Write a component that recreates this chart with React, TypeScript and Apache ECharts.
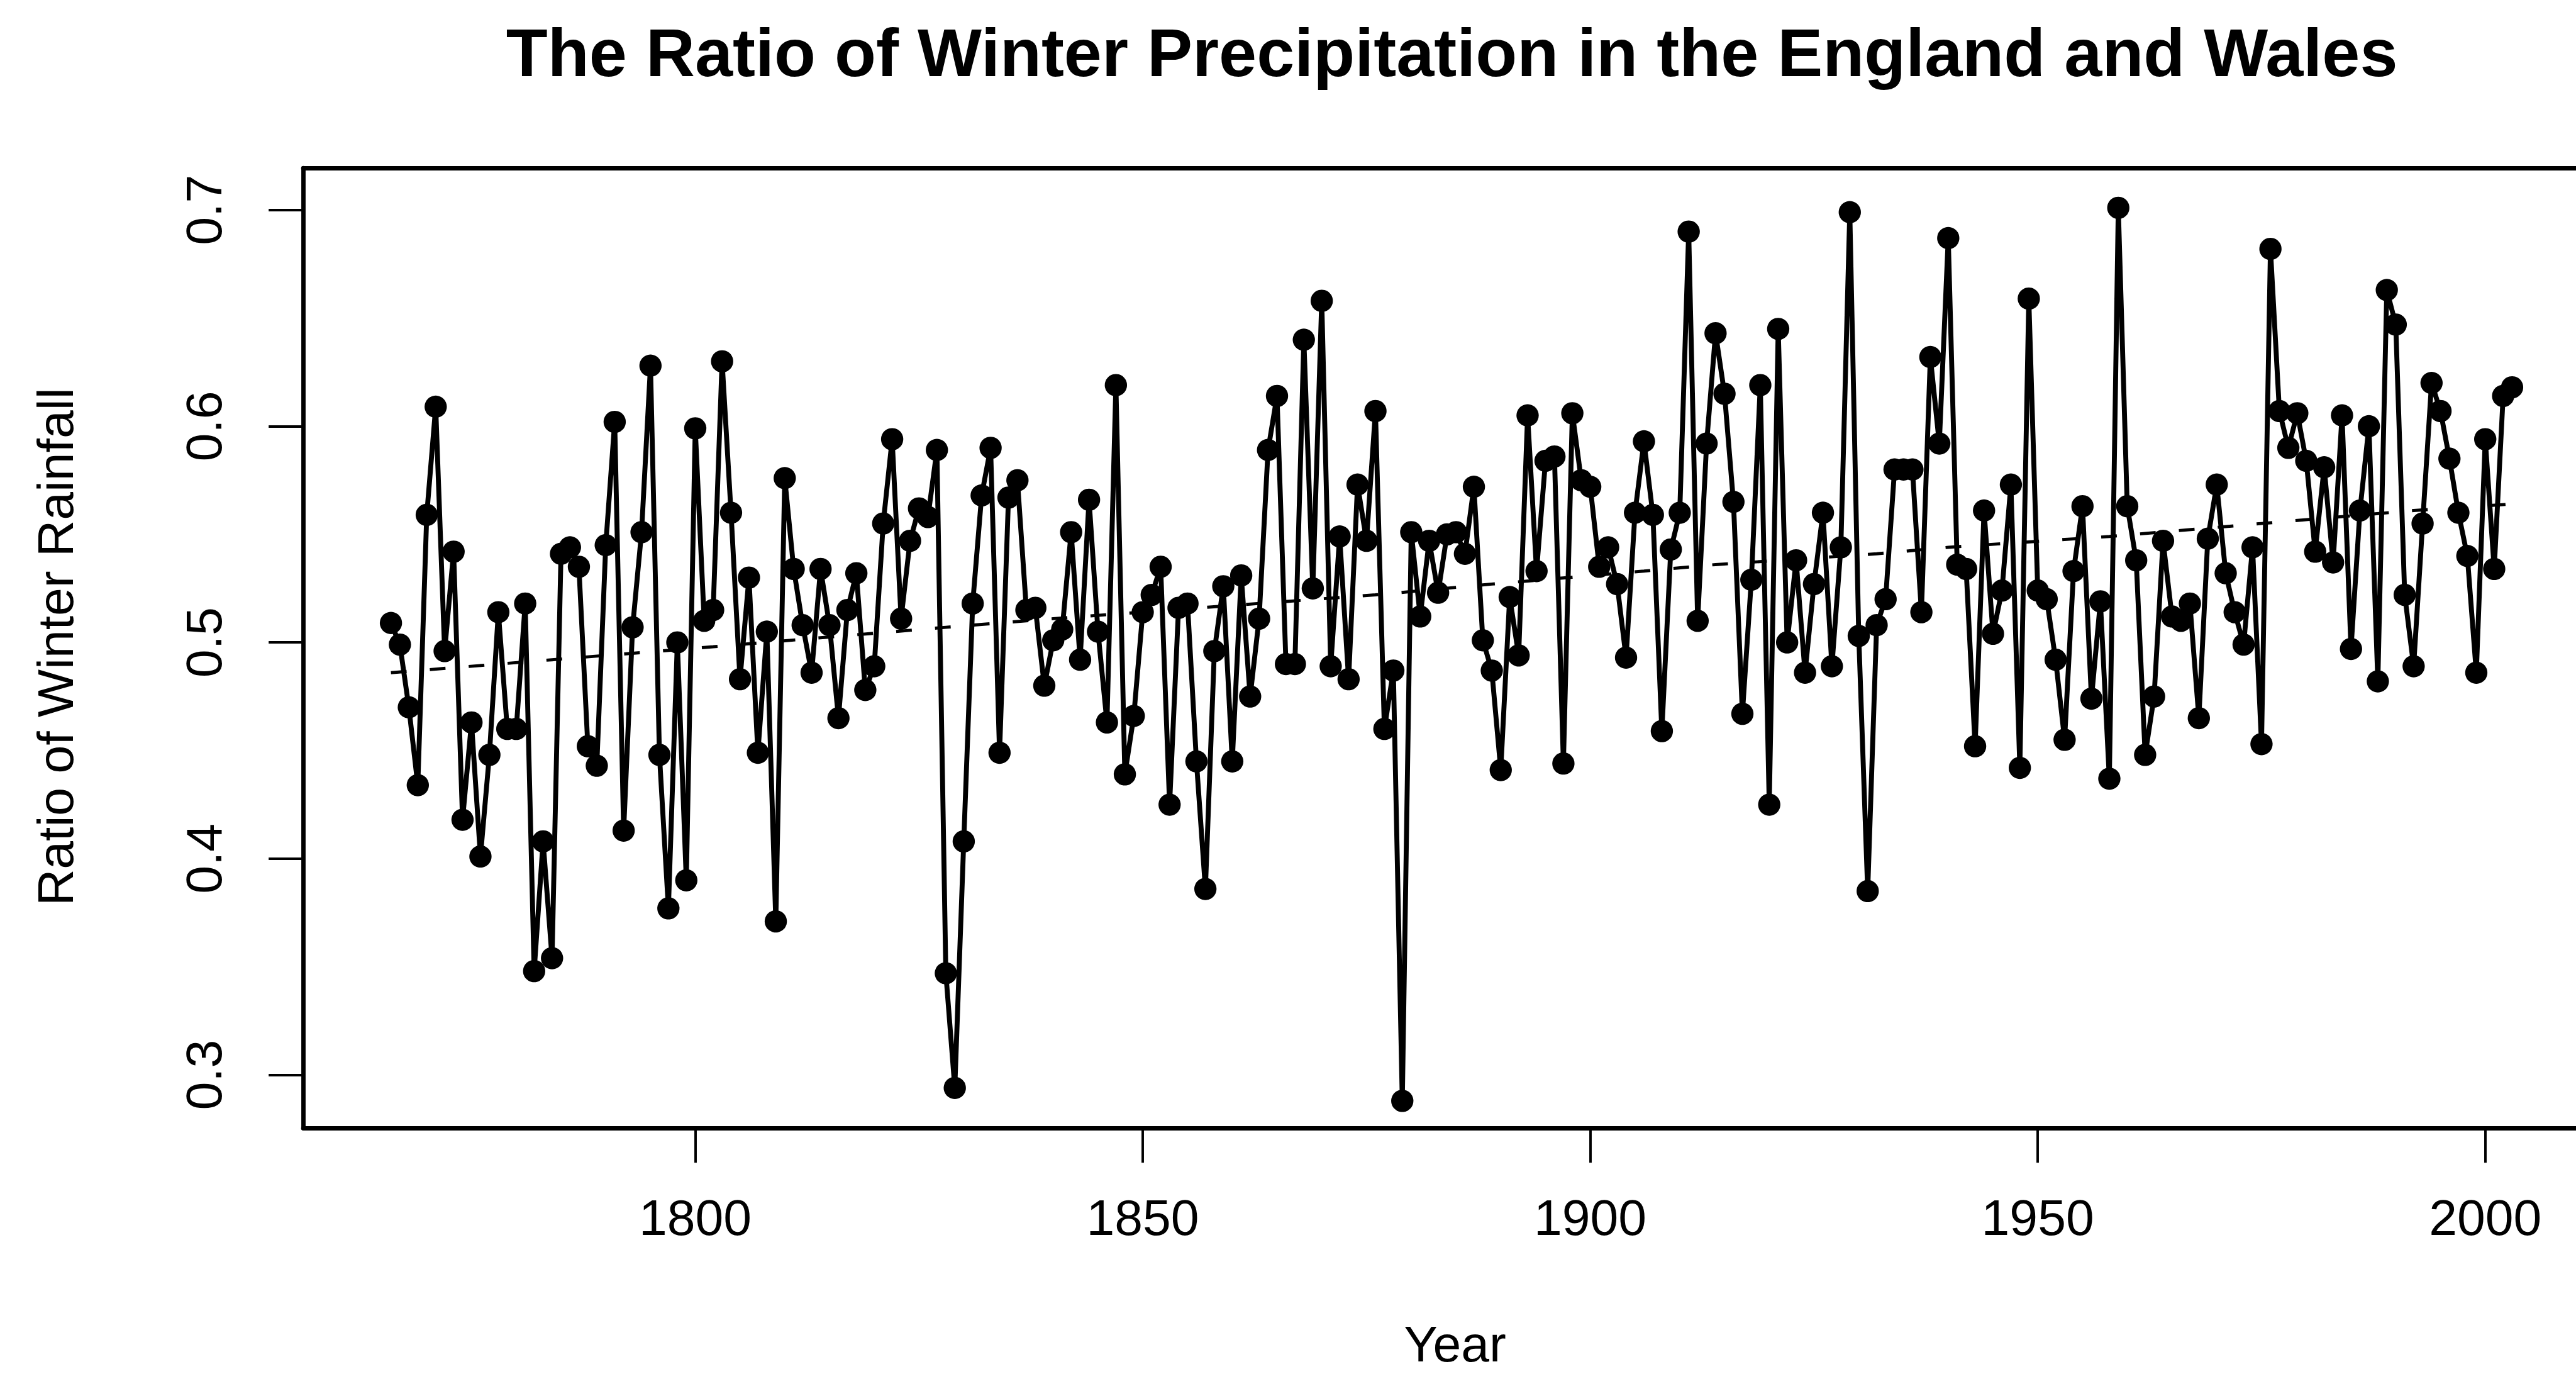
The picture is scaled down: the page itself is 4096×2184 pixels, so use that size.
import React, { useEffect, useRef } from "react";
import * as echarts from "echarts";

const S = 0.982;
const W = 4096;
const H = 2184;

const chartTitle = "The Ratio of Winter Precipitation in the England and Wales";
const xTitle = "Year";
const yTitle = "Ratio of Winter Rainfall";

const startYear = 1766;
const ratio = [
  0.509, 0.499, 0.470, 0.434, 0.559, 0.609, 0.496, 0.542, 0.418, 0.463,
  0.401, 0.448, 0.514, 0.460, 0.460, 0.518, 0.348, 0.408, 0.354, 0.541,
  0.544, 0.535, 0.452, 0.443, 0.545, 0.602, 0.413, 0.507, 0.551, 0.628,
  0.448, 0.377, 0.500, 0.390, 0.599, 0.510, 0.515, 0.630, 0.560, 0.483,
  0.530, 0.449, 0.505, 0.371, 0.576, 0.534, 0.508, 0.486, 0.534, 0.508,
  0.465, 0.515, 0.532, 0.478, 0.489, 0.555, 0.594, 0.511, 0.547, 0.562,
  0.558, 0.589, 0.347, 0.294, 0.408, 0.518, 0.568, 0.590, 0.449, 0.567,
  0.575, 0.515, 0.516, 0.480, 0.501, 0.506, 0.551, 0.492, 0.566, 0.505,
  0.463, 0.619, 0.439, 0.466, 0.514, 0.522, 0.535, 0.425, 0.516, 0.518,
  0.445, 0.386, 0.496, 0.526, 0.445, 0.531, 0.475, 0.511, 0.589, 0.614,
  0.490, 0.490, 0.640, 0.525, 0.658, 0.489, 0.549, 0.483, 0.573, 0.547,
  0.607, 0.460, 0.487, 0.288, 0.551, 0.512, 0.547, 0.523, 0.550, 0.551,
  0.541, 0.572, 0.501, 0.487, 0.441, 0.521, 0.494, 0.605, 0.533, 0.584,
  0.586, 0.444, 0.606, 0.575, 0.572, 0.535, 0.544, 0.527, 0.493, 0.560,
  0.593, 0.559, 0.459, 0.543, 0.560, 0.690, 0.510, 0.592, 0.643, 0.615,
  0.565, 0.467, 0.529, 0.619, 0.425, 0.645, 0.500, 0.538, 0.486, 0.527,
  0.560, 0.489, 0.544, 0.699, 0.503, 0.385, 0.508, 0.520, 0.580, 0.580,
  0.580, 0.514, 0.632, 0.592, 0.687, 0.536, 0.534, 0.452, 0.561, 0.504,
  0.524, 0.573, 0.442, 0.659, 0.524, 0.520, 0.492, 0.455, 0.533, 0.563,
  0.474, 0.519, 0.437, 0.701, 0.563, 0.538, 0.448, 0.475, 0.547, 0.512,
  0.510, 0.518, 0.465, 0.548, 0.573, 0.532, 0.514, 0.499, 0.544, 0.453,
  0.682, 0.607, 0.590, 0.606, 0.584, 0.542, 0.581, 0.537, 0.605, 0.497,
  0.561, 0.600, 0.482, 0.663, 0.647, 0.522, 0.489, 0.555, 0.620, 0.607,
  0.585, 0.560, 0.540, 0.486, 0.594, 0.534, 0.614, 0.618,
];

const trendYears = [1766, 1784, 1802, 1828, 1840, 1876, 1889, 1906, 1914, 1932, 1940, 1958, 1975, 1992, 2003];
const trendValues = [0.486, 0.492, 0.498, 0.507, 0.511, 0.522, 0.527, 0.533, 0.536, 0.541, 0.544, 0.549, 0.555, 0.561, 0.564];

const xTicks = [1800, 1850, 1900, 1950, 2000];
const yTicks = [0.3, 0.4, 0.5, 0.6, 0.7];

const FONT = "'Liberation Sans', Arial, Helvetica, sans-serif";

export default function App() {
  const ref = useRef<HTMLDivElement>(null);

  useEffect(() => {
    if (!ref.current) return;
    const chart = echarts.init(ref.current, null, { renderer: "svg", width: W, height: H });

    const points = ratio.map((v, i) => [startYear + i, v]);
    const trend = trendYears.map((y, i) => [y, trendValues[i]]);

    const fs = 82 * S;
    const boxLine = { show: true, onZero: false, lineStyle: { color: "#000", width: 7 * S } };

    chart.setOption({
      animation: false,
      backgroundColor: "#ffffff",
      grid: {
        left: 491 * S,
        top: 272 * S,
        right: 0,
        height: (1826 - 272) * S,
        show: false,
      },
      xAxis: [
        {
          type: "value",
          position: "bottom",
          min: 1756.2,
          max: 2010.14,
          axisLine: boxLine,
          splitLine: { show: false },
          axisTick: {
            show: true,
            customValues: xTicks,
            inside: false,
            length: 56 * S,
            lineStyle: { color: "#000", width: 4 * S },
          },
          axisLabel: {
            show: true,
            customValues: xTicks,
            margin: 103 * S,
            fontSize: fs,
            fontFamily: FONT,
            color: "#000",
            formatter: (v: number) => String(v),
          },
        },
        {
          type: "value",
          position: "top",
          min: 1756.2,
          max: 2010.14,
          axisLine: boxLine,
          splitLine: { show: false },
          axisTick: { show: false },
          axisLabel: { show: false },
        },
      ],
      yAxis: {
        type: "value",
        min: 0.2754,
        max: 0.7194,
        axisLine: boxLine,
        splitLine: { show: false },
        axisTick: {
          show: true,
          customValues: yTicks,
          inside: false,
          length: 56 * S,
          lineStyle: { color: "#000", width: 4 * S },
        },
        axisLabel: {
          show: true,
          customValues: yTicks,
          rotate: 90,
          margin: 120 * S,
          fontSize: fs,
          fontFamily: FONT,
          color: "#000",
          formatter: (v: number) => v.toFixed(1),
        },
      },
      series: [
        {
          type: "line",
          xAxisIndex: 0,
          data: trend,
          showSymbol: false,
          symbol: "none",
          smooth: false,
          lineStyle: { color: "#000", width: 5 * S, type: [25, 37] },
          z: 2,
          silent: true,
        },
        {
          type: "line",
          xAxisIndex: 0,
          data: points,
          symbol: "circle",
          symbolSize: 36 * S,
          showAllSymbol: true,
          lineStyle: { color: "#000", width: 8 * S },
          itemStyle: { color: "#000" },
          z: 3,
          silent: true,
        },
      ],
      graphic: [
        {
          type: "text",
          x: 2351 * S,
          y: 85 * S,
          style: {
            text: chartTitle,
            font: `bold ${110 * S}px ${FONT}`,
            fill: "#000",
            align: "center",
            verticalAlign: "middle",
          },
        },
        {
          type: "text",
          x: 2356 * S,
          y: 2175 * S,
          style: {
            text: xTitle,
            font: `${fs}px ${FONT}`,
            fill: "#000",
            align: "center",
            verticalAlign: "middle",
          },
        },
        {
          type: "text",
          x: 90 * S,
          y: 1047 * S,
          rotation: Math.PI / 2,
          style: {
            text: yTitle,
            font: `${fs}px ${FONT}`,
            fill: "#000",
            align: "center",
            verticalAlign: "middle",
          },
        },
      ],
    });

    return () => {
      chart.dispose();
    };
  }, []);

  return (
    <div
      ref={ref}
      style={{ position: "absolute", left: 0, top: 0, width: W, height: H, background: "#fff" }}
    />
  );
}
